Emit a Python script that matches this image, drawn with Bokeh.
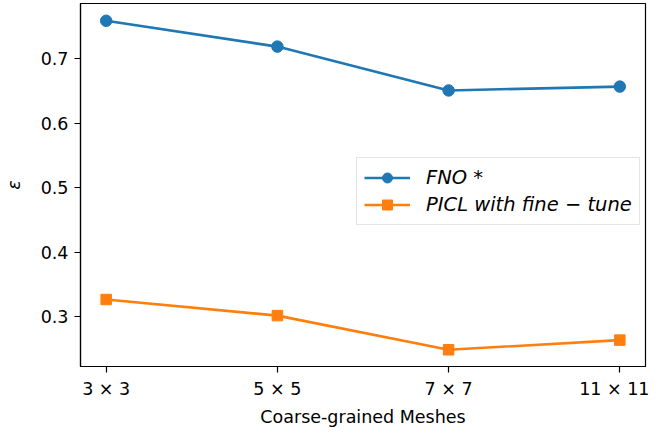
from bokeh.plotting import figure
from bokeh.models import Range1d, FixedTicker, Legend, LegendItem
from bokeh.embed import file_html
from bokeh.resources import INLINE

categories = ["3 × 3", "5 × 5", "7 × 7", "11 × 11"]
fno_values = [0.759, 0.719, 0.651, 0.657]
picl_values = [0.327, 0.302, 0.249, 0.264]
y_ticks = [0.3, 0.4, 0.5, 0.6, 0.7]
y_tick_labels = ["0.3", "0.4", "0.5", "0.6", "0.7"]

FONT = "DejaVu Sans"
FS = "17.5px"

xs = list(range(len(categories)))

p = figure(width=649, height=429, output_backend="svg", toolbar_location=None,
           x_range=Range1d(-0.15, len(categories) - 1 + 0.15),
           y_range=Range1d(0.2231, 0.7858),
           min_border_left=73, min_border_right=4, min_border_top=3, min_border_bottom=59)

p.xgrid.visible = False
p.ygrid.visible = False
p.outline_line_color = "black"
p.outline_line_width = 1.2

c1 = "#1f77b4"
c2 = "#ff7f0e"
l1 = p.line(xs, fno_values, line_color=c1, line_width=2.6)
m1 = p.scatter(xs, fno_values, marker="circle", size=11.5, fill_color=c1, line_color=c1)
l2 = p.line(xs, picl_values, line_color=c2, line_width=2.6)
m2 = p.scatter(xs, picl_values, marker="square", size=10.5, fill_color=c2, line_color=c2)

p.xaxis.ticker = FixedTicker(ticks=xs)
p.xaxis.major_label_overrides = {i: c for i, c in zip(xs, categories)}
p.yaxis.ticker = FixedTicker(ticks=y_ticks)
p.yaxis.major_label_overrides = {t: l for t, l in zip(y_ticks, y_tick_labels)}

for ax in (p.xaxis[0], p.yaxis[0]):
    ax.axis_line_color = "black"
    ax.axis_line_width = 1.2
    ax.major_tick_line_color = "black"
    ax.major_tick_line_width = 1.2
    ax.major_tick_in = 0
    ax.major_tick_out = 6
    ax.minor_tick_line_color = None
    ax.major_label_text_font = FONT
    ax.major_label_text_font_size = FS
    ax.major_label_text_color = "black"
    ax.axis_label_text_font = FONT
    ax.axis_label_text_font_size = FS
    ax.axis_label_text_color = "black"
    ax.axis_label_text_font_style = "normal"

p.xaxis.axis_label = "Coarse-grained Meshes"
p.xaxis.major_label_standoff = 6
p.xaxis.axis_label_standoff = 5
p.yaxis.axis_label = "ε"
p.yaxis.axis_label_text_font_style = "italic"
p.yaxis.major_label_standoff = 6
p.yaxis.axis_label_standoff = 14

legend = Legend(items=[LegendItem(label="FNO *", renderers=[l1, m1]),
                       LegendItem(label="PICL with fine − tune", renderers=[l2, m2])],
                location=(276, 141))
legend.label_text_font = FONT
legend.label_text_font_size = "19.5px"
legend.label_text_font_style = "italic"
legend.label_text_color = "black"
legend.border_line_color = "#cccccc"
legend.border_line_width = 1.2
legend.background_fill_alpha = 0.8
legend.padding = 7
legend.spacing = 2
legend.label_height = 25
legend.glyph_height = 25
legend.glyph_width = 46
legend.label_standoff = 16
legend.margin = 0
p.add_layout(legend)

open("out.html", "w").write(file_html(p, INLINE))
